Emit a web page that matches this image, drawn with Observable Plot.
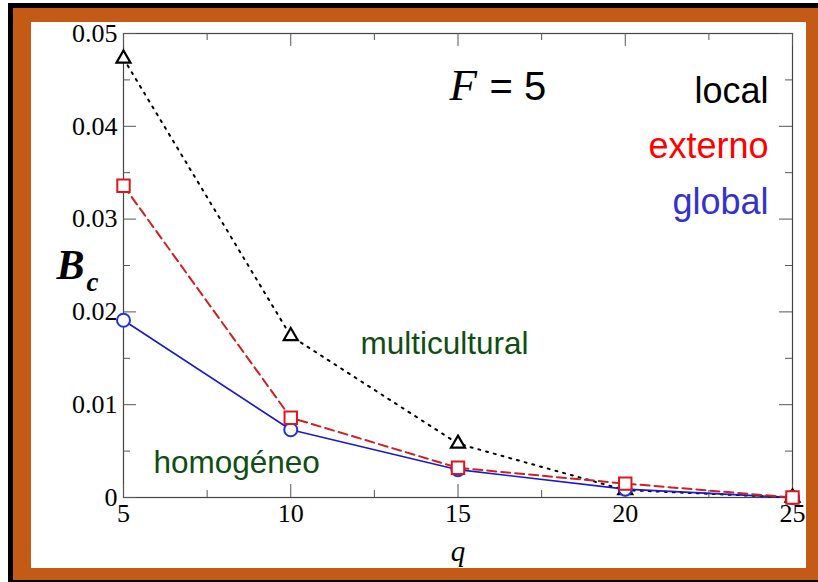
<!DOCTYPE html>
<html>
<head>
<meta charset="utf-8">
<script src="https://cdn.jsdelivr.net/npm/d3@7"></script>
<script src="https://cdn.jsdelivr.net/npm/@observablehq/plot@0.6"></script>
<style>
  html, body { margin: 0; padding: 0; background: #fff; }
  #page { position: relative; width: 818px; height: 582px; overflow: hidden; }
  #outer {
    position: absolute; left: 8px; top: 3px; width: 830px; height: 579px;
    box-sizing: border-box; background: #c35a16;
    border-left: 5px solid #000; border-top: 5px solid #000; border-bottom: 2px solid #000;
  }
  #inner { position: absolute; left: 31px; top: 22px; width: 775px; height: 546px; background: #fff; }
  #chart { position: absolute; left: 0; top: 0; }
</style>
</head>
<body>
<div id="page">
  <div id="outer"></div>
  <div id="inner"></div>
  <div id="chart"></div>
</div>
<script>
// number of cultural traits per feature
const q = [5, 10, 15, 20, 25];
// critical coupling B_c for each kind of field
const local = [0.0473, 0.0174, 0.0058, 0.0008, 0.0];
const externo = [0.0336, 0.0086, 0.0032, 0.0015, 0.0];
const global = [0.0191, 0.0073, 0.0030, 0.0009, 0.0];

const xTicks = [5, 10, 15, 20, 25];
const xMinor = [7.5, 12.5, 17.5, 22.5];
const yTicks = [0, 0.01, 0.02, 0.03, 0.04, 0.05];
const yMinor = [0.005, 0.015, 0.025, 0.035, 0.045];

const rows = (ys) => q.map((v, i) => ({q: v, b: ys[i]}));

const W = 818, H = 582;
const mL = 123, mR = 26, mT = 33, mB = 85;
const pw = W - mL - mR, ph = H - mT - mB;
const major = 13, minor = 7;

const serif = "Liberation Serif, Times New Roman, serif";
const sans = "Liberation Sans, Arial, sans-serif";
const tickColor = "#555";
const green = "#0f4d12";

const chart = Plot.plot({
  width: W,
  height: H,
  marginLeft: mL,
  marginRight: mR,
  marginTop: mT,
  marginBottom: mB,
  style: {background: "transparent", overflow: "visible"},
  x: {domain: [5, 25]},
  y: {domain: [0, 0.05]},
  marks: [
    Plot.frame({stroke: "#444", strokeWidth: 1.2}),
    // inward ticks on all four sides
    Plot.ruleX(xTicks, {x: d => d, insetTop: ph - major, stroke: tickColor}),
    Plot.ruleX(xMinor, {x: d => d, insetTop: ph - minor, stroke: tickColor}),
    Plot.ruleX(xTicks, {x: d => d, insetBottom: ph - major, stroke: tickColor}),
    Plot.ruleX(xMinor, {x: d => d, insetBottom: ph - minor, stroke: tickColor}),
    Plot.ruleY(yTicks, {y: d => d, insetRight: pw - major, stroke: tickColor}),
    Plot.ruleY(yMinor, {y: d => d, insetRight: pw - minor, stroke: tickColor}),
    Plot.ruleY(yTicks, {y: d => d, insetLeft: pw - major, stroke: tickColor}),
    Plot.ruleY(yMinor, {y: d => d, insetLeft: pw - minor, stroke: tickColor}),
    Plot.axisX({ticks: xTicks, tickSize: 0, tickPadding: 6.5, tickFormat: d => String(d),
      fontSize: 26, fontFamily: serif, fill: "#000", label: null}),
    Plot.axisY({ticks: yTicks, tickSize: 0, tickPadding: 6,
      tickFormat: d => d === 0 ? "0" : d.toFixed(2),
      fontSize: 26, fontFamily: serif, fill: "#000", label: null}),

    // local field: dotted black with triangles
    Plot.line(rows(local), {x: "q", y: "b", stroke: "#000", strokeWidth: 2, strokeDasharray: "2,6"}),
    Plot.dot(rows(local), {x: "q", y: "b", symbol: "triangle", r: 5.2, stroke: "#000", strokeWidth: 2.2, fill: "#fff"}),
    // global field: solid blue with circles
    Plot.line(rows(global), {x: "q", y: "b", stroke: "#1a1acc", strokeWidth: 1.6}),
    Plot.dot(rows(global), {x: "q", y: "b", symbol: "circle", r: 6.5, stroke: "#2233dd", strokeWidth: 2, fill: "#fff"}),
    // external field: dashed red with squares
    Plot.line(rows(externo), {x: "q", y: "b", stroke: "#cc2222", strokeWidth: 2, strokeDasharray: "9,5"}),
    Plot.dot(rows(externo), {x: "q", y: "b", symbol: "square", r: 7, stroke: "#e0141e", strokeWidth: 2, fill: "#fff"}),

    // axis titles
    Plot.text(["q"], {frameAnchor: "bottom", dy: 63, lineAnchor: "bottom", fontSize: 29,
      fontFamily: serif, fontStyle: "italic", fill: "#000"}),
    Plot.text(["B"], {frameAnchor: "top-left", dx: -67, dy: 245, lineAnchor: "bottom", textAnchor: "start",
      fontSize: 42, fontFamily: serif, fontStyle: "italic", fontWeight: "bold", fill: "#000"}),
    Plot.text(["c"], {frameAnchor: "top-left", dx: -37, dy: 257, lineAnchor: "bottom", textAnchor: "start",
      fontSize: 27, fontFamily: serif, fontStyle: "italic", fontWeight: "bold", fill: "#000"}),

    // parameter annotation
    Plot.text(["F"], {frameAnchor: "top-left", dx: 326, dy: 66, lineAnchor: "bottom", textAnchor: "start",
      fontSize: 45, fontFamily: serif, fontStyle: "italic", fill: "#000"}),
    Plot.text(["= 5"], {frameAnchor: "top-left", dx: 366, dy: 66, lineAnchor: "bottom", textAnchor: "start",
      fontSize: 40, fontFamily: sans, fill: "#000"}),

    // series names
    Plot.text(["local"], {frameAnchor: "top-right", dx: -24, dy: 69, lineAnchor: "bottom", textAnchor: "end",
      fontSize: 36, fontFamily: sans, fill: "#000"}),
    Plot.text(["externo"], {frameAnchor: "top-right", dx: -24, dy: 124, lineAnchor: "bottom", textAnchor: "end",
      fontSize: 36, fontFamily: sans, fill: "#ff0000"}),
    Plot.text(["global"], {frameAnchor: "top-right", dx: -24, dy: 180, lineAnchor: "bottom", textAnchor: "end",
      fontSize: 36, fontFamily: sans, fill: "#3333cc"}),

    // phase labels
    Plot.text(["multicultural"], {frameAnchor: "top-left", dx: 237, dy: 320, lineAnchor: "bottom", textAnchor: "start",
      fontSize: 31.5, fontFamily: sans, fill: green}),
    Plot.text(["homogéneo"], {frameAnchor: "top-left", dx: 30, dy: 439, lineAnchor: "bottom", textAnchor: "start",
      fontSize: 31.5, fontFamily: sans, fill: green})
  ]
});

document.getElementById("chart").appendChild(chart);
</script>
</body>
</html>
